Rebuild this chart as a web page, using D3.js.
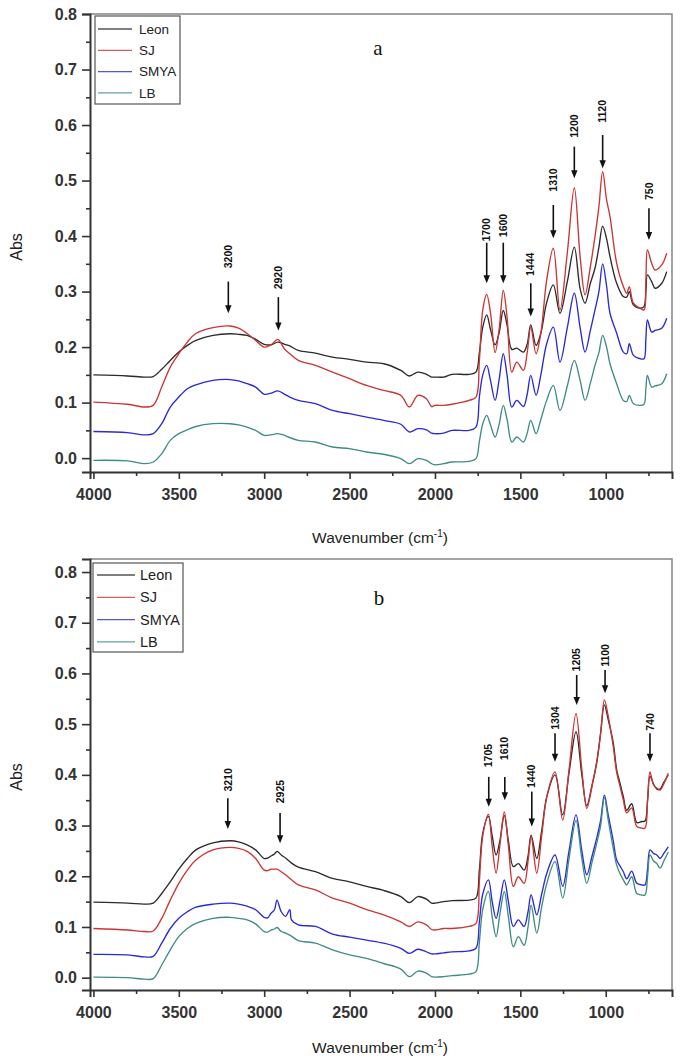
<!DOCTYPE html>
<html><head><meta charset="utf-8">
<script src="https://cdn.jsdelivr.net/npm/d3@7/dist/d3.min.js"></script>
<style>body{margin:0;background:#fff}svg{display:block}</style>
</head><body>
<svg id="chart" width="680" height="1063"></svg>
<script>
// ---------- DATA ----------
const seriesNames = ["Leon", "SJ", "SMYA", "LB"];
const seriesColors = ["#2b2b2b", "#cc3535", "#2a2ad8", "#3f8c84"];

const xTicks = [4000, 3500, 3000, 2500, 2000, 1500, 1000];
const xMinorTicks = [3750, 3250, 2750, 2250, 1750, 1250, 750];
const yTicks = [0.0, 0.1, 0.2, 0.3, 0.4, 0.5, 0.6, 0.7, 0.8];
const yMinorTicks = [0.05, 0.15, 0.25, 0.35, 0.45, 0.55, 0.65, 0.75];

// Panel a
const wavesA = [4000,3800,3700,3650,3600,3550,3500,3450,3400,3300,3200,3150,3100,3050,3000,2960,2920,2880,2850,2800,2700,2600,2500,2400,2300,2200,2150,2100,2050,2020,2000,1950,1900,1800,1760,1740,1720,1697,1675,1648,1625,1600,1578,1550,1521,1482,1460,1439,1408,1380,1346,1307,1268,1225,1184,1150,1121,1090,1063,1040,1018,995,975,936,897,877,862,838,799,776,765,756,731,711,672,643];
const leonA = [0.150,0.148,0.146,0.147,0.160,0.176,0.191,0.203,0.212,0.221,0.224,0.223,0.221,0.214,0.205,0.204,0.209,0.205,0.202,0.194,0.189,0.182,0.178,0.173,0.170,0.158,0.148,0.155,0.151,0.146,0.146,0.146,0.151,0.151,0.155,0.190,0.236,0.258,0.232,0.204,0.225,0.266,0.240,0.196,0.198,0.191,0.205,0.240,0.203,0.225,0.280,0.312,0.261,0.318,0.380,0.305,0.279,0.315,0.342,0.380,0.418,0.395,0.363,0.315,0.291,0.290,0.300,0.276,0.270,0.273,0.300,0.330,0.318,0.306,0.315,0.336];
const sjA = [0.101,0.097,0.092,0.095,0.128,0.164,0.188,0.209,0.2245,0.235,0.238,0.234,0.2245,0.212,0.200,0.204,0.214,0.196,0.188,0.176,0.167,0.155,0.143,0.131,0.122,0.113,0.092,0.113,0.107,0.093,0.095,0.095,0.097,0.104,0.110,0.175,0.267,0.295,0.262,0.190,0.230,0.302,0.255,0.155,0.173,0.158,0.190,0.236,0.188,0.225,0.320,0.378,0.267,0.370,0.487,0.363,0.294,0.345,0.399,0.453,0.516,0.465,0.435,0.351,0.309,0.297,0.309,0.279,0.270,0.267,0.320,0.375,0.351,0.339,0.348,0.369];
const smyaA = [0.048,0.046,0.042,0.044,0.062,0.092,0.110,0.125,0.132,0.140,0.1415,0.139,0.134,0.128,0.115,0.117,0.121,0.115,0.110,0.104,0.098,0.086,0.080,0.074,0.068,0.061,0.047,0.053,0.051,0.045,0.044,0.045,0.050,0.050,0.056,0.110,0.150,0.167,0.140,0.104,0.140,0.188,0.150,0.092,0.104,0.093,0.115,0.149,0.113,0.150,0.206,0.236,0.173,0.235,0.297,0.235,0.191,0.230,0.267,0.300,0.350,0.310,0.261,0.225,0.191,0.188,0.206,0.185,0.179,0.179,0.215,0.249,0.227,0.230,0.234,0.252];
const lbA = [-0.004,-0.005,-0.010,-0.007,0.008,0.032,0.044,0.051,0.057,0.062,0.062,0.060,0.056,0.050,0.041,0.042,0.044,0.041,0.037,0.032,0.029,0.020,0.017,0.011,0.007,-0.001,-0.010,-0.001,-0.004,-0.010,-0.012,-0.010,-0.007,-0.006,-0.001,0.030,0.062,0.077,0.060,0.038,0.060,0.095,0.070,0.029,0.038,0.029,0.045,0.068,0.044,0.070,0.104,0.131,0.086,0.130,0.176,0.140,0.104,0.135,0.167,0.190,0.221,0.200,0.170,0.134,0.104,0.102,0.113,0.098,0.095,0.097,0.125,0.149,0.128,0.130,0.134,0.152];

const annotLabelsA = ["3200","2920","1700","1600","1444","1310","1200","1120","750"];
const annotWaveA   = [3210, 2917, 1697, 1600, 1439, 1307, 1184, 1018, 747];
const annotTailA   = [0.318,0.290,0.388,0.388,0.315,0.456,0.561,0.582,0.450];
const annotTipA    = [0.261,0.230,0.315,0.315,0.255,0.396,0.504,0.522,0.393];
const annotTextA   = [0.342,0.304,0.390,0.398,0.328,0.480,0.577,0.604,0.465];

// Panel b
const wavesB = [4000,3800,3700,3650,3600,3550,3500,3450,3400,3300,3200,3150,3100,3050,3000,2980,2960,2940,2925,2900,2875,2850,2840,2800,2700,2600,2500,2400,2300,2200,2150,2100,2050,2020,2000,1950,1900,1800,1760,1740,1720,1687,1665,1642,1620,1594,1570,1541,1512,1478,1455,1437,1404,1375,1345,1297,1252,1215,1174,1140,1111,1080,1053,1030,1008,985,956,936,916,897,877,848,818,789,770,755,741,720,701,682,660,634];
const leonB = [0.149,0.147,0.145,0.147,0.166,0.189,0.214,0.235,0.252,0.266,0.270,0.268,0.262,0.252,0.235,0.236,0.240,0.244,0.249,0.242,0.236,0.229,0.226,0.218,0.209,0.196,0.189,0.180,0.172,0.160,0.148,0.160,0.155,0.147,0.147,0.150,0.152,0.153,0.157,0.212,0.285,0.318,0.280,0.242,0.270,0.320,0.270,0.219,0.225,0.212,0.240,0.281,0.235,0.290,0.357,0.400,0.321,0.404,0.485,0.400,0.339,0.380,0.423,0.483,0.538,0.508,0.463,0.410,0.383,0.357,0.330,0.343,0.306,0.308,0.309,0.350,0.397,0.382,0.372,0.372,0.385,0.400];
const sjB = [0.097,0.094,0.091,0.092,0.117,0.153,0.186,0.212,0.232,0.252,0.257,0.255,0.249,0.235,0.212,0.211,0.214,0.214,0.214,0.209,0.203,0.196,0.193,0.183,0.173,0.157,0.147,0.134,0.124,0.110,0.101,0.110,0.104,0.095,0.094,0.097,0.097,0.101,0.107,0.190,0.280,0.322,0.260,0.206,0.260,0.327,0.260,0.180,0.199,0.186,0.230,0.278,0.206,0.280,0.357,0.406,0.311,0.410,0.521,0.410,0.334,0.378,0.426,0.480,0.548,0.515,0.456,0.405,0.377,0.350,0.325,0.335,0.298,0.295,0.295,0.350,0.406,0.380,0.374,0.370,0.382,0.403];
const smyaB = [0.046,0.045,0.041,0.042,0.068,0.097,0.117,0.130,0.139,0.145,0.147,0.145,0.141,0.134,0.119,0.118,0.127,0.134,0.153,0.130,0.121,0.134,0.114,0.104,0.101,0.086,0.080,0.074,0.068,0.058,0.048,0.056,0.051,0.047,0.047,0.049,0.051,0.053,0.058,0.110,0.165,0.193,0.150,0.117,0.150,0.193,0.150,0.101,0.114,0.101,0.130,0.163,0.124,0.165,0.206,0.242,0.180,0.250,0.321,0.250,0.203,0.240,0.275,0.310,0.360,0.320,0.270,0.232,0.220,0.209,0.195,0.210,0.186,0.183,0.183,0.215,0.252,0.245,0.242,0.235,0.245,0.258];
const lbB = [0.001,0.000,-0.003,-0.002,0.025,0.055,0.081,0.097,0.107,0.117,0.119,0.117,0.114,0.106,0.091,0.090,0.094,0.096,0.099,0.091,0.088,0.084,0.082,0.073,0.068,0.055,0.045,0.038,0.028,0.017,0.002,0.013,0.009,0.002,0.001,0.002,0.004,0.007,0.012,0.070,0.135,0.170,0.120,0.081,0.125,0.170,0.120,0.061,0.081,0.064,0.100,0.143,0.088,0.140,0.186,0.229,0.157,0.235,0.310,0.235,0.186,0.228,0.265,0.300,0.355,0.310,0.255,0.222,0.205,0.193,0.183,0.199,0.166,0.163,0.163,0.200,0.242,0.230,0.225,0.216,0.230,0.248];

const annotLabelsB = ["3210","2925","1705","1610","1440","1304","1205","1100","740"];
const annotWaveB   = [3213, 2907, 1685, 1591, 1433, 1297, 1170, 1004, 741];
const annotTailB   = [0.354,0.325,0.396,0.396,0.367,0.482,0.597,0.607,0.482];
const annotTipB    = [0.293,0.265,0.337,0.350,0.298,0.426,0.538,0.561,0.426];
const annotTextB   = [0.367,0.344,0.415,0.429,0.374,0.489,0.604,0.613,0.487];

// ---------- LAYOUT ----------
const FONT = "'Liberation Sans', Arial, Helvetica, sans-serif";
const panels = [
  { tag: "a", waves: wavesA, series: [leonA, sjA, smyaA, lbA],
    ann: {labels: annotLabelsA, w: annotWaveA, tail: annotTailA, tip: annotTipA, text: annotTextA},
    top: 14, bottom: 472, yDomain: [-0.025, 0.8], titleY: 543, absY: 247, tagX: 378, tagY: 55,
    legend: {x: 95, y: 16, w: 85, h: 88, firstRow: 13, row: 21.3, font: 13.5, lx1: 3, lx2: 37, tx: 44} },
  { tag: "b", waves: wavesB, series: [leonB, sjB, smyaB, lbB],
    ann: {labels: annotLabelsB, w: annotWaveB, tail: annotTailB, tip: annotTipB, text: annotTextB},
    top: 559, bottom: 990, yDomain: [-0.0243, 0.8257], titleY: 1053, absY: 777, tagX: 379, tagY: 605,
    legend: {x: 93, y: 563, w: 90, h: 89, firstRow: 12, row: 22.3, font: 14.5, lx1: 4, lx2: 42, tx: 47} }
];
const left = 90, right = 672;

const svg = d3.select("#chart");

panels.forEach((p, pi) => {
  const x = d3.scaleLinear().domain([4020, 612]).range([left, right]);
  const y = d3.scaleLinear().domain(p.yDomain).range([p.bottom, p.top]);
  const g = svg.append("g");

  const clipId = "clip" + pi;
  svg.append("clipPath").attr("id", clipId).append("rect")
    .attr("x", left).attr("y", p.top).attr("width", right - left).attr("height", p.bottom - p.top);

  g.append("path")
    .attr("d", `M${left},${p.top}H${right}V${p.bottom}`)
    .attr("fill", "none").attr("stroke", "#858585").attr("stroke-width", 1.5);

  const line = d3.line().x(d => x(d[0])).y(d => y(d[1])).curve(d3.curveCatmullRom.alpha(0.5));
  p.series.forEach((vals, si) => {
    const pts = p.waves.map((w, i) => [w, vals[i]]);
    g.append("path").datum(pts)
      .attr("clip-path", `url(#${clipId})`)
      .attr("d", line)
      .attr("fill", "none")
      .attr("stroke", seriesColors[si])
      .attr("stroke-width", 1.35)
      .attr("stroke-linejoin", "round");
  });

  g.append("g").attr("transform", `translate(0,${p.bottom})`)
    .call(d3.axisBottom(x).tickValues(xTicks).tickSize(7).tickPadding(10).tickFormat(d3.format("d")));
  g.append("g").attr("transform", `translate(0,${p.bottom})`)
    .call(d3.axisBottom(x).tickValues(xMinorTicks).tickSize(4).tickFormat(""))
    .call(a => a.select(".domain").remove());
  g.append("g").attr("transform", `translate(${left},0)`)
    .call(d3.axisLeft(y).tickValues(yTicks).tickSize(8).tickPadding(5).tickFormat(d3.format(".1f")));
  g.append("g").attr("transform", `translate(${left},0)`)
    .call(d3.axisLeft(y).tickValues(yMinorTicks).tickSize(4).tickFormat(""))
    .call(a => a.select(".domain").remove());

  g.selectAll(".domain").attr("stroke", "#333").attr("stroke-width", 2);
  g.selectAll(".tick line").attr("stroke", "#333").attr("stroke-width", 1.6);
  g.selectAll(".tick text").attr("font-family", FONT).attr("font-size", 16)
    .attr("font-weight", "bold").attr("fill", "#333");

  const t = g.append("text").attr("x", 380).attr("y", p.titleY).attr("text-anchor", "middle")
    .attr("font-family", FONT).attr("font-size", 15.5).attr("fill", "#222");
  t.append("tspan").text("Wavenumber (cm");
  t.append("tspan").attr("font-size", 10).attr("dy", -6).text("-1");
  t.append("tspan").attr("dy", 6).text(")");

  g.append("text").attr("transform", `translate(16,${p.absY}) rotate(-90)`)
    .attr("text-anchor", "middle").attr("dy", "0.35em")
    .attr("font-family", FONT).attr("font-size", 16).attr("fill", "#222").text("Abs");

  g.append("text").attr("x", p.tagX).attr("y", p.tagY).attr("text-anchor", "middle")
    .attr("font-family", "'Liberation Serif', 'Times New Roman', serif").attr("font-size", 21)
    .attr("fill", "#111").text(p.tag);

  const A = p.ann;
  A.labels.forEach((lab, i) => {
    const ax = x(A.w[i]);
    const yTail = y(A.tail[i]), yTip = y(A.tip[i]);
    g.append("line").attr("x1", ax).attr("x2", ax).attr("y1", yTail).attr("y2", yTip - 6)
      .attr("stroke", "#111").attr("stroke-width", 1.6);
    g.append("path")
      .attr("d", `M${ax - 3.2},${yTip - 8}L${ax + 3.2},${yTip - 8}L${ax},${yTip}Z`)
      .attr("fill", "#111");
    g.append("text").attr("transform", `translate(${ax},${y(A.text[i])}) rotate(-90)`)
      .attr("dy", "0.35em").attr("text-anchor", "start")
      .attr("font-family", FONT).attr("font-size", 10.5).attr("font-weight", "bold")
      .attr("fill", "#111").text(lab);
  });

  const L = p.legend;
  const lg = g.append("g").attr("transform", `translate(${L.x},${L.y})`);
  lg.append("rect").attr("width", L.w).attr("height", L.h)
    .attr("fill", "#fff").attr("stroke", "#555").attr("stroke-width", 1.2);
  seriesNames.forEach((nm, si) => {
    const ry = L.firstRow + si * L.row;
    lg.append("line").attr("x1", L.lx1).attr("x2", L.lx2).attr("y1", ry).attr("y2", ry)
      .attr("stroke", seriesColors[si]).attr("stroke-width", 1.3).attr("opacity", 0.8);
    lg.append("text").attr("x", L.tx).attr("y", ry).attr("dy", "0.35em")
      .attr("font-family", FONT).attr("font-size", L.font).attr("fill", "#222").text(nm);
  });
});
</script>
</body></html>
